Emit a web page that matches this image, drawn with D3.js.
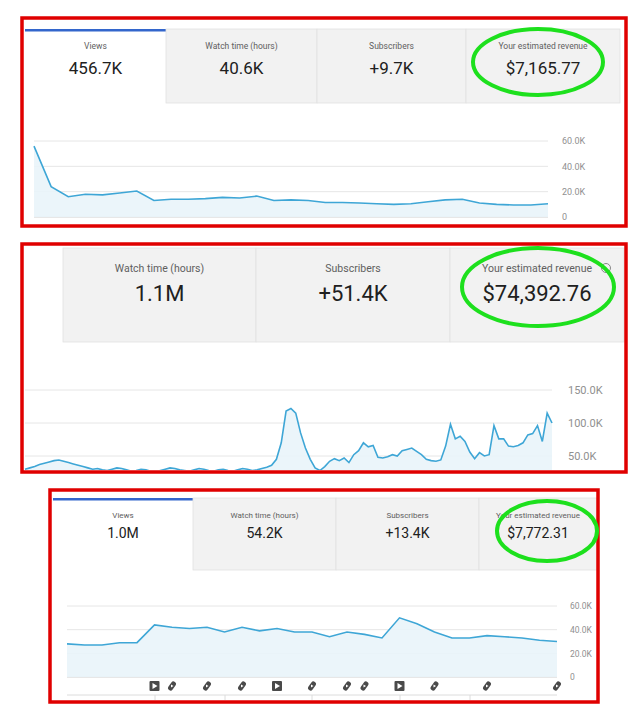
<!DOCTYPE html>
<html>
<head>
<meta charset="utf-8">
<script src="https://cdn.jsdelivr.net/npm/d3@7"></script>
<style>
  body { margin: 0; background: #fff; }
  text { font-family: Roboto, "Noto Sans", sans-serif; }
</style>
</head>
<body>
<svg id="chart" width="641" height="720"></svg>
<script>
// ---- data ----
const tabs1 = ["Views", "Watch time (hours)", "Subscribers", "Your estimated revenue"];
const vals1 = ["456.7K", "40.6K", "+9.7K", "$7,165.77"];
const series1 = [56, 24, 16, 18, 17.5, 19, 20.5, 13, 14, 14, 14.5, 15.5, 15, 16.5, 13, 13.5, 13,
  11.5, 11.5, 11, 10.5, 10, 10.5, 12, 13.5, 14, 11, 10, 9.5, 9.5, 10.5];
const ticks1 = [0, 20, 40, 60];

const tabs2 = ["Watch time (hours)", "Subscribers", "Your estimated revenue"];
const vals2 = ["1.1M", "+51.4K", "$74,392.76"];
const series2 = [30, 32, 34, 37, 39, 41, 43, 44, 42, 40,
  38, 36, 34, 32, 30, 31, 29, 28, 30, 32, 31, 29, 27, 28, 30, 29, 27, 26, 28, 30, 32, 31, 29, 28, 27, 29, 31, 30, 28, 27, 29, 30, 28, 27, 29, 31, 30, 28, 29, 31, 33, 36,
  45, 70, 118, 122, 115, 85, 62, 45, 32, 28, 34, 42, 46, 43, 47, 40, 52, 58, 70, 64, 66, 48, 47, 49, 52, 50, 58, 60, 62, 57,
  52, 45, 43, 42, 44, 65, 98, 76, 80, 72, 56, 46, 55, 50, 52, 96, 76, 76, 65, 64, 66, 70, 82, 84, 96, 72, 115, 100];
const ticks2 = [50, 100, 150];

const tabs3 = ["Views", "Watch time (hours)", "Subscribers", "Your estimated revenue"];
const vals3 = ["1.0M", "54.2K", "+13.4K", "$7,772.31"];
const series3 = [28, 27, 27, 29, 29, 44, 42, 41, 42, 38, 42, 39, 41, 38, 38, 34, 38, 36, 33, 50,
  45, 38, 33, 33, 35, 34, 33, 31, 30];
const ticks3 = [0, 20, 40, 60];
// upload markers under panel 3: [point index, type]
const uploads3 = [[5, "video"], [6, "short"], [8, "short"], [10, "short"], [12, "video"], [14, "short"],
  [16, "short"], [17, "short"], [19, "video"], [21, "short"], [24, "short"], [28, "short"]];

const svg = d3.select("#chart");
const LINE = "#3ea6d6", FILL = "#e9f4fa", GRID = "#e6e6e6", TAB = "#f2f2f2";

// tab strip: cells = [{x0,x1,label,value,active}]
function drawTabs(cells, y0, y1, o) {
  const g = svg.append("g");
  cells.forEach((c) => {
    g.append("rect").attr("x", c.x0).attr("y", y0).attr("width", c.x1 - c.x0).attr("height", y1 - y0)
      .attr("fill", c.active ? "#fff" : TAB).attr("stroke", c.active ? "none" : "#e2e2e2").attr("stroke-width", 0.8);
    if (c.active) g.append("rect").attr("x", c.x0).attr("y", y0).attr("width", c.x1 - c.x0).attr("height", 2.5).attr("fill", "#3366cc");
    const cx = (c.x0 + c.x1) / 2;
    g.append("text").attr("x", cx).attr("y", y0 + o.ly).attr("text-anchor", "middle")
      .attr("font-size", o.ls).attr("fill", "#606060").text(c.label);
    g.append("text").attr("x", cx).attr("y", y0 + o.vy).attr("text-anchor", "middle")
      .attr("font-size", o.vs).attr("fill", "#202020").text(c.value);
  });
}

function drawArea(data, x0, x1, yTop, yZero, max, ticks, clipBottom, labelX, fontSize) {
  const x = d3.scaleLinear().domain([0, data.length - 1]).range([x0, x1]);
  const y = d3.scaleLinear().domain([0, max]).range([yZero, yTop]);
  const clipId = "c" + Math.round(yTop);
  svg.append("clipPath").attr("id", clipId).append("rect")
    .attr("x", x0 - 2).attr("y", yTop - 10).attr("width", x1 - x0 + 4).attr("height", clipBottom - yTop + 10);
  const g = svg.append("g");
  const axis = d3.axisRight(y).tickValues(ticks).tickSize(0)
    .tickFormat((d) => (d === 0 ? "0" : d.toFixed(1) + "K"));
  const ag = g.append("g").attr("transform", `translate(${labelX},0)`).call(axis);
  ag.select(".domain").remove();
  ag.selectAll("text").attr("fill", "#909090").attr("font-size", fontSize).attr("x", 0);
  g.selectAll(".grid").data(ticks).enter().append("line")
    .attr("x1", x0).attr("x2", x1).attr("y1", (d) => y(d)).attr("y2", (d) => y(d))
    .attr("stroke", (d) => (d === 0 ? "#cfcfcf" : GRID)).attr("stroke-width", 1);
  const pg = g.append("g").attr("clip-path", `url(#${clipId})`);
  pg.append("path").datum(data).attr("fill", FILL).attr("opacity", 0.9)
    .attr("d", d3.area().x((d, i) => x(i)).y0(yZero).y1((d) => y(d)));
  pg.append("path").datum(data).attr("fill", "none").attr("stroke", LINE).attr("stroke-width", 1.6)
    .attr("d", d3.line().x((d, i) => x(i)).y((d) => y(d)));
  return x;
}

function redBox(x, y, w, h) {
  svg.append("rect").attr("x", x).attr("y", y).attr("width", w).attr("height", h)
    .attr("fill", "none").attr("stroke", "#e00000").attr("stroke-width", 3.5);
}
function ring(cx, cy, rx, ry) {
  svg.append("ellipse").attr("cx", cx).attr("cy", cy).attr("rx", rx).attr("ry", ry)
    .attr("fill", "none").attr("stroke", "#1de01d").attr("stroke-width", 4);
}

// ---- panel 1 ----
const edges1 = [25, 166, 317, 466, 620];
drawTabs(tabs1.map((t, i) => ({ x0: edges1[i], x1: edges1[i + 1], label: t, value: vals1[i], active: i === 0 })),
  29, 103, { ly: 20, ls: 8.5, vy: 45, vs: 17 });
drawArea(series1, 34, 548, 141, 217, 60, ticks1, 217, 562, 9);
redBox(22, 18, 604, 208);
ring(538, 62, 65, 33);

// ---- panel 2 ----
const edges2 = [63, 256, 450, 624];
drawTabs(tabs2.map((t, i) => ({ x0: edges2[i], x1: edges2[i + 1], label: t, value: vals2[i], active: false })),
  248, 342, { ly: 24, ls: 10.5, vy: 53, vs: 22 });
drawArea(series2, 25, 552, 390, 489, 150, ticks2, 470, 568, 11);
svg.append("circle").attr("cx", 606).attr("cy", 268).attr("r", 4.5).attr("fill", "none").attr("stroke", "#888").attr("stroke-width", 1);
redBox(22, 244, 604, 228);
ring(538, 287, 76, 39);

// ---- panel 3 ----
const edges3 = [53, 193, 336, 479, 597];
drawTabs(tabs3.map((t, i) => ({ x0: edges3[i], x1: edges3[i + 1], label: t, value: vals3[i], active: i === 0 })),
  498, 570, { ly: 20, ls: 8, vy: 40, vs: 14 });
const x3 = drawArea(series3, 67, 557, 606, 677, 60, ticks3, 677, 570, 8.5);
const ig = svg.append("g");
uploads3.forEach(([i, type]) => {
  const cx = x3(i), cy = 686;
  if (type === "video") {
    ig.append("rect").attr("x", cx - 5).attr("y", cy - 5).attr("width", 10).attr("height", 10).attr("rx", 1).attr("fill", "#4a4a4a");
    ig.append("path").attr("d", `M${cx - 2},${cy - 3}L${cx + 3},${cy}L${cx - 2},${cy + 3}Z`).attr("fill", "#fff");
  } else {
    ig.append("rect").attr("x", cx - 2.5).attr("y", cy - 5).attr("width", 5).attr("height", 10).attr("rx", 2.5)
      .attr("transform", `rotate(35,${cx},${cy})`).attr("fill", "#4a4a4a");
    ig.append("path").attr("d", `M${cx - 1},${cy - 1.5}L${cx + 1.5},${cy}L${cx - 1},${cy + 1.5}Z`).attr("fill", "#fff");
  }
});
svg.append("line").attr("x1", 67).attr("x2", 557).attr("y1", 695).attr("y2", 695).attr("stroke", "#dcdcdc");
[155, 225, 312, 400, 470].forEach((d) => svg.append("line").attr("x1", d).attr("x2", d).attr("y1", 695).attr("y2", 700).attr("stroke", "#dcdcdc"));
redBox(50, 490, 548, 212);
ring(547, 531, 50, 30);
</script>
</body>
</html>
